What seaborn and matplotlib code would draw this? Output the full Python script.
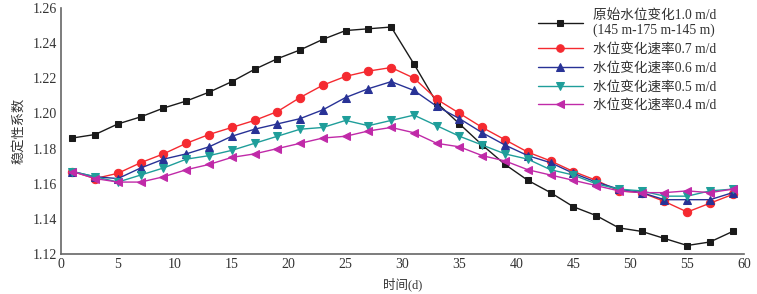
import matplotlib
matplotlib.use("Agg")
import matplotlib.pyplot as plt
import seaborn as sns
import pandas as pd

days = [1, 3, 5, 7, 9, 11, 13, 15, 17, 19, 21, 23, 25, 27, 29,
        31, 33, 35, 37, 39, 41, 43, 45, 47, 49, 51, 53, 55, 57, 59]

rate_10 = [1.186, 1.188, 1.194, 1.198, 1.203, 1.207, 1.212, 1.218, 1.225, 1.231, 1.236, 1.242, 1.247, 1.248, 1.249,
           1.228, 1.206, 1.194, 1.182, 1.171, 1.162, 1.155, 1.147, 1.142, 1.135, 1.133, 1.129, 1.125, 1.127, 1.133]
rate_07 = [1.167, 1.163, 1.166, 1.172, 1.177, 1.183, 1.188, 1.192, 1.196, 1.201, 1.209, 1.216, 1.221, 1.224, 1.226,
           1.220, 1.208, 1.200, 1.192, 1.185, 1.178, 1.173, 1.167, 1.162, 1.156, 1.155, 1.150, 1.144, 1.149, 1.154]
rate_06 = [1.167, 1.164, 1.163, 1.169, 1.174, 1.177, 1.181, 1.187, 1.191, 1.194, 1.197, 1.202, 1.209, 1.214, 1.218,
           1.213, 1.204, 1.197, 1.189, 1.182, 1.176, 1.172, 1.166, 1.161, 1.157, 1.155, 1.151, 1.151, 1.151, 1.155]
rate_05 = [1.167, 1.164, 1.161, 1.165, 1.169, 1.174, 1.176, 1.179, 1.183, 1.187, 1.191, 1.192, 1.196, 1.193, 1.196,
           1.199, 1.193, 1.187, 1.182, 1.177, 1.174, 1.168, 1.165, 1.160, 1.157, 1.156, 1.153, 1.153, 1.156, 1.157]
rate_04 = [1.167, 1.163, 1.161, 1.161, 1.164, 1.168, 1.171, 1.175, 1.177, 1.180, 1.183, 1.186, 1.187, 1.190, 1.192,
           1.189, 1.183, 1.181, 1.176, 1.173, 1.168, 1.165, 1.162, 1.159, 1.156, 1.155, 1.155, 1.156, 1.155, 1.157]

labels = ["原始水位变化1.0 m/d\n(145 m-175 m-145 m)",
          "水位变化速率0.7 m/d",
          "水位变化速率0.6 m/d",
          "水位变化速率0.5 m/d",
          "水位变化速率0.4 m/d"]
series = [rate_10, rate_07, rate_06, rate_05, rate_04]
colors = ["#1a1a1a", "#f52a30", "#283296", "#1f9e9a", "#c02aa8"]
markers = ["s", "o", "^", "v", "<"]
msizes = [5, 6, 6, 6, 6]

xticks = [0, 5, 10, 15, 20, 25, 30, 35, 40, 45, 50, 55, 60]
yticks = [1.12, 1.14, 1.16, 1.18, 1.20, 1.22, 1.24, 1.26]

sns.set_style("white")
plt.rcParams["font.family"] = ["Liberation Serif", "Noto Sans CJK SC"]
plt.rcParams["axes.unicode_minus"] = False

fig, ax = plt.subplots(figsize=(7.57, 2.94), dpi=100)
fig.subplots_adjust(left=0.0806, right=0.983, top=0.974, bottom=0.135)

for vals, lab, col, mk, ms in zip(series, labels, colors, markers, msizes):
    df = pd.DataFrame({"day": days, "value": vals})
    sns.lineplot(data=df, x="day", y="value", ax=ax, color=col, marker=mk,
                 markersize=ms, markeredgecolor=col, markerfacecolor=col,
                 linewidth=1.0, label=lab)

ax.set_xlim(0, 60)
ax.set_ylim(1.12, 1.26)
ax.set_xticks(xticks)
ax.set_yticks(yticks)
ax.set_yticklabels([f"{v:.2f}" for v in yticks])
ax.tick_params(direction="in", length=3.5, width=1, colors="#555555",
               labelcolor="#333333", labelsize=10, pad=3)
for side in ["top", "right"]:
    ax.spines[side].set_visible(False)
for side in ["left", "bottom"]:
    ax.spines[side].set_color("#666666")
    ax.spines[side].set_linewidth(1.2)

ax.set_xlabel("时间(d)", fontsize=9, color="#333333")
ax.set_ylabel("稳定性系数", fontsize=9.5, color="#333333")
ax.xaxis.set_label_coords(0.5, -0.095)
ax.yaxis.set_label_coords(-0.052, 0.5)

leg = ax.legend(loc="upper left", bbox_to_anchor=(0.69, 1.018), frameon=False,
                fontsize=9.8, handlelength=3.3, labelspacing=0.42,
                handletextpad=0.75, borderaxespad=0, markerscale=0.9)
for t in leg.get_texts():
    t.set_color("#333333")

fig.savefig("out.png", dpi=100)
